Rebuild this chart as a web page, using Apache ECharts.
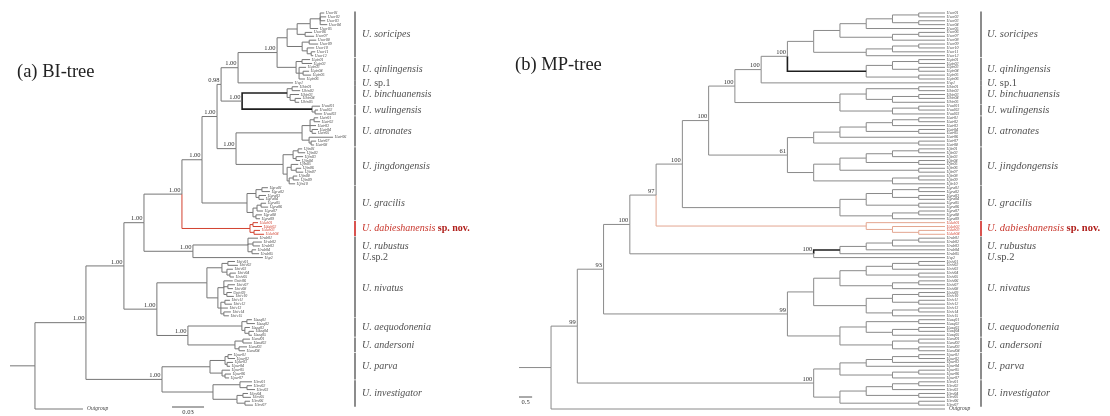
<!DOCTYPE html>
<html><head><meta charset="utf-8">
<script src="https://cdn.jsdelivr.net/npm/echarts@6/dist/echarts.min.js"></script>
<style>html,body{margin:0;padding:0;background:#fff}#c{width:1110px;height:416px}</style>
</head><body><div id="c"></div>
<script>
// ================= DATA =================
const titles = ['(a) BI-tree', '(b) MP-tree'];
const cladeCodes = ['sor','qin','sp1','bin','wul','atr','jin','gra','dab','rub','sp2','niv','aeq','and','par','inv'];
const cladeNames = ['soricipes','qinlingensis','sp.1','binchuanensis','wulingensis','atronates','jingdongensis','gracilis','dabieshanensis','rubustus','sp.2','nivatus','aequodonenia','andersoni','parva','investigator'];
const scaleBarValues = [0.03, 0.5];
const scaleBarLabels = ['0.03', '0.5'];

// BI tree (phylogram, branch lengths in substitutions/site, node labels = posterior probabilities)
const biBackbone = '(((((((((({sor}:0.0094,{qin}:0.0178)1.00:0.0366,Usp1:0.0516)1.00:0.0159,({bin}:0.0422,{wul}:0.0656)1.00:0.0197)0.98:0.0038,({atr}:0.0619,{jin}:0.0441)1.00:0.0178)1.00:0.0141,{gra}:0.0422)1.00:0.0188,{dab}:0.0638)1.00:0.0356,({rub}:0.0516,Usp2:0.0656)1.00:0.0459)1.00:0.0188,({niv}:0.0469,({aeq}:0.0506,{and}:0.0441)1.00:0.0291)1.00:0.0309)1.00:0.0356,({par}:0.045,{inv}:0.0478)1.00:0.0713)1.00:0.0478,Outgroup:0.045):0.0234';
const biSor = '((((Usor01:0.0038,Usor02:0.0056,Usor03:0.0047,Usor04:0.0066):0.0094,Usor05:0.0075):0.0122,(Usor06:0.0066,Usor07:0.0084):0.0075):0.0094,((Usor08:0.0066,Usor09:0.0084):0.0066,(Usor10:0.0066,(Usor11:0.0038,Usor12:0.0019):0.0038):0.0047):0.0141)';
const biQin = '((Uqin01:0.0075,Uqin02:0.0094):0.0056,(Uqin03:0.0066,(Uqin04:0.0056,Uqin05:0.0075):0.0038,Uqin06:0.0056):0.0028)';
const biBin = '((Ubin01:0.0056,Ubin02:0.0075):0.0047,(Ubin03:0.0084,(Ubin04:0.0056,Ubin05:0.0038):0.0047):0.0028)';
const biWul = '(Uwul01:0.0075,(Uwul02:0.0028,Uwul03:0.0066):0.0028)';
const biAtr = '(((Uatr01:0.0038,Uatr02:0.0056):0.0038,Uatr03:0.0056,(Uatr04:0.0056,Uatr05:0.0038):0.0019):0.0075,(Uatr06:0.0225,(Uatr07:0.0047,Uatr08:0.0028):0.0019):0.0066)';
const biJin = '(((Ujin01:0.0038,Ujin02:0.0066):0.0047,(Ujin03:0.0066,Ujin04:0.0038):0.0028):0.0094,((Ujin05:0.0066,(Ujin06:0.0047,Ujin07:0.0066):0.0047):0.0038,((Ujin08:0.0038,Ujin09:0.0056):0.0038,Ujin10:0.0056):0.0019):0.0038)';
const biGra = '(((Ugra01:0.0056,Ugra02:0.0075):0.0056,(Ugra03:0.0066,Ugra04:0.0047):0.0028):0.0084,(((Ugra05:0.0047,Ugra06:0.0066):0.0038,Ugra07:0.0056):0.0038,(Ugra08:0.0056,Ugra09:0.0038):0.0028):0.0056)';
const biDab = '((Udab01:0.0047,Udab02:0.0084):0.0028,(Udab03:0.0056,Udab04:0.0094):0.0038)';
const biRub = '(Urub01:0.0094,(Urub02:0.0084,Urub03:0.0066):0.0047,(Urub04:0.0038,Urub05:0.0066):0.0038)';
const biNiv = '(((Univ01:0.0066,Univ02:0.0094):0.0056,(Univ03:0.0056,(Univ04:0.0056,Univ05:0.0038):0.0028):0.0047):0.0141,((Univ06:0.0084,(Univ07:0.0066,Univ08:0.0047):0.0038,(Univ09:0.0047,Univ10:0.0066):0.0028):0.0056,((Univ11:0.0047,Univ12:0.0066):0.0038,Univ13:0.0066,(Univ14:0.0066,Univ15:0.0047):0.0028):0.0028):0.0103)';
const biAeq = '((Uaeq01:0.0047,Uaeq02:0.0075):0.0047,(Uaeq03:0.0047,(Uaeq04:0.0047,Uaeq05:0.0028):0.0038):0.0028)';
const biAnd = '((Uand01:0.0066,Uand02:0.0084):0.0075,(Uand03:0.0075,Uand04:0.0056):0.0038)';
const biPar = '(((Upar01:0.0038,Upar02:0.0066):0.0028,(Upar03:0.0056,Upar04:0.0028):0.0019):0.0141,(Upar05:0.0075,(Upar06:0.0056,Upar07:0.0038):0.0028):0.0113)';
const biInv = '((Uinv01:0.0113,(Uinv02:0.0047,Uinv03:0.0075):0.0066):0.0253,((Uinv04:0.0047,Uinv05:0.0075):0.0056,(Uinv06:0.0047,Uinv07:0.0075):0.0075):0.0225)';

// MP tree (cladogram, node labels = bootstrap values)
const mpBackbone = '(((((((((({sor},{qin})100,Usp1)100,({bin},{wul}))100,({atr},{jin})61)100,{gra})100,{dab})97,({rub},Usp2)100)100,({niv},({aeq},{and}))99)93,({par},{inv})100)99,Outgroup)';
const mpSor = '(((((Usor01,Usor02),(Usor03,Usor04)),Usor05),((Usor06,Usor07),Usor08)),(((Usor09,Usor10),Usor11),Usor12))';
const mpQin = '(((Uqin01,Uqin02),(Uqin03,Uqin04)),(Uqin05,Uqin06))';
const mpBin = '((Ubin01,Ubin02),((Ubin03,Ubin04),Ubin05))';
const mpWul = '((Uwul01,Uwul02),Uwul03)';
const mpAtr = '(((((Uatr01,Uatr02),Uatr03),(Uatr04,Uatr05)),Uatr06),(Uatr07,Uatr08))';
const mpJin = '(((((Ujin01,Ujin02),Ujin03),(Ujin04,Ujin05)),(Ujin06,Ujin07)),((Ujin08,Ujin09),Ujin10))';
const mpGra = '((((Ugra01,Ugra02),(Ugra03,Ugra04)),(Ugra05,Ugra06)),((Ugra07,Ugra08),Ugra09))';
const mpDab = '(Udab01,(Udab02,(Udab03,Udab04)))';
const mpRub = '((((Urub01,Urub02),Urub03),Urub04),Urub05)';
const mpNiv = '(((((Univ01,Univ02),Univ03),(Univ04,Univ05)),((Univ06,Univ07),Univ08)),(((Univ09,Univ10),(Univ11,Univ12)),((Univ13,Univ14),Univ15)))';
const mpAeq = '((Uaeq01,Uaeq02),((Uaeq03,Uaeq04),Uaeq05))';
const mpAnd = '((Uand01,Uand02),(Uand03,Uand04))';
const mpPar = '((((Upar01,Upar02),Upar03),Upar04),((Upar05,Upar06),Upar07))';
const mpInv = '((((Uinv01,Uinv02),Uinv03),(Uinv04,Uinv05)),(Uinv06,Uinv07))';

// ================= BUILD =================
const SERIF = '"Liberation Serif","DejaVu Serif",serif';
function fillBackbone(bb, parts){ return bb.replace(/\{(\w+)\}/g, (m,k) => parts[k]); }
function parseNewick(str){
  let i = 0;
  function node(){
    const n = {children:[], name:'', len:0};
    if (str[i] === '('){
      i++; n.children.push(node());
      while (str[i] === ','){ i++; n.children.push(node()); }
      i++;
    }
    let s = '';
    while (i < str.length && ':,();'.indexOf(str[i]) < 0) s += str[i++];
    n.name = s;
    if (str[i] === ':'){ i++; let v=''; while (i < str.length && ',();'.indexOf(str[i]) < 0) v += str[i++]; n.len = parseFloat(v); }
    return n;
  }
  return node();
}
function codeOf(name){ return name.slice(1,4); }
function layoutTree(root, mode, stub){
  const nodes = []; let leafIdx = 0;
  function height(n){ n.h = n.children.length ? 1 + Math.max(...n.children.map(height)) : 0; return n.h; }
  height(root);
  function walk(n, parent, px){
    n.parent = parent; n.px = px;
    n.x = mode === 'phylo' ? px + n.len : n.h;
    if (!n.children.length){ n.y = leafIdx++; n.leaves = [n.name]; }
    else {
      n.children.forEach(c => walk(c, n, n.x));
      n.y = (n.children[0].y + n.children[n.children.length-1].y) / 2;
      n.leaves = [].concat(...n.children.map(c => c.leaves));
    }
    const codes = new Set(n.leaves.map(codeOf));
    n.code = codes.size === 1 ? [...codes][0] : null;
    nodes.push(n);
  }
  walk(root, null, mode === 'phylo' ? 0 : root.h + stub);
  return nodes;
}
const biParts = {sor:biSor,qin:biQin,bin:biBin,wul:biWul,atr:biAtr,jin:biJin,gra:biGra,dab:biDab,rub:biRub,niv:biNiv,aeq:biAeq,and:biAnd,par:biPar,inv:biInv};
const mpParts = {sor:mpSor,qin:mpQin,bin:mpBin,wul:mpWul,atr:mpAtr,jin:mpJin,gra:mpGra,dab:mpDab,rub:mpRub,niv:mpNiv,aeq:mpAeq,and:mpAnd,par:mpPar,inv:mpInv};
const MP_STUB = 1.22;
const trees = [
  layoutTree(parseNewick(fillBackbone(biBackbone, biParts)), 'phylo', 0),
  layoutTree(parseNewick(fillBackbone(mpBackbone, mpParts)), 'clado', MP_STUB)
];
const leafCount = trees[0].filter(n => !n.children.length).length;

const boldStems = [['bin','wul'], ['qin','rub']];
function styleOf(n, t){
  if (n.code === 'dab') return {color: t === 0 ? '#d2412f' : '#e3a690', width: 1};
  if (n.code && boldStems[t].includes(n.code) && (!n.parent || n.parent.code !== n.code)) return {color:'#1e1e1e', width:1.6};
  return {color: t === 0 ? '#767676' : '#8a8a8a', width: 1};
}

function treeSeries(t){
  const nodes = trees[t];
  return {
    type:'custom', coordinateSystem:'cartesian2d', xAxisIndex:t, yAxisIndex:t,
    silent:true, animation:false, clip:false,
    data: nodes.map(n => [n.x, n.y]),
    renderItem(params, api){
      const n = nodes[params.dataIndex];
      const st = styleOf(n, t);
      const pY = n.parent ? n.parent.y : n.y;
      const a = api.coord([n.px, pY]), b = api.coord([n.px, n.y]), c = api.coord([n.x, n.y]);
      const els = [{type:'polyline', shape:{points:[a,b,c]}, style:{stroke:st.color, lineWidth:st.width, fill:'none'}}];
      if (n.children.length && n.name){
        els.push({type:'text', style:{text:n.name, x:c[0]-1.5, y:c[1]-0.6, align:'right', verticalAlign:'bottom',
          font:'6.5px ' + SERIF, fill:'#333'}});
      }
      if (!n.children.length){
        const isOut = n.name === 'Outgroup';
        els.push({type:'text', style:{text:n.name, x:c[0]+ (isOut ? 4 : 1.5), y:c[1], align:'left', verticalAlign:'middle',
          font:'italic ' + (isOut ? 5.5 : 4) + 'px ' + SERIF, fill: n.code === 'dab' ? '#d2412f' : '#444'}});
      }
      return {type:'group', children:els};
    }
  };
}

const bracketX = [355, 981], labelX = [362, 987], labelSize = [10, 10.5];
function cladeRich(code, name, size){
  if (code === 'sp1') return '{i|U.}{n| sp.1}';
  if (code === 'sp2') return '{i|U.}{n|sp.2}';
  if (code === 'dab') return '{r|U. ' + name + '}{b| sp. nov.}';
  return '{i|U. ' + name + '}';
}
function cladeSeries(t){
  const leaves = trees[t].filter(n => !n.children.length);
  const sz = labelSize[t];
  return {
    type:'custom', coordinateSystem:'cartesian2d', xAxisIndex:t, yAxisIndex:t,
    silent:true, animation:false, clip:false,
    data: cladeCodes.map((c,i) => [0, i]),
    renderItem(params, api){
      const code = cladeCodes[params.dataIndex];
      const ls = leaves.filter(l => codeOf(l.name) === code);
      const y1 = api.coord([0, ls[0].y])[1], y2 = api.coord([0, ls[ls.length-1].y])[1];
      const ext = ls.length === 1 ? 2.6 : 1.6;
      const red = code === 'dab';
      return {type:'group', children:[
        {type:'rect', shape:{x:bracketX[t]-1, y:y1-ext, width:2, height:(y2-y1)+2*ext},
          style:{fill: red ? '#d9534f' : '#8c8c8c'}},
        {type:'text', style:{text: cladeRich(code, cladeNames[params.dataIndex]), x:labelX[t], y:(y1+y2)/2,
          align:'left', verticalAlign:'middle',
          rich:{
            i:{fontStyle:'italic', fontSize:sz, fontFamily:SERIF, fill:'#505050'},
            n:{fontSize:sz, fontFamily:SERIF, fill:'#505050'},
            r:{fontStyle:'italic', fontSize:sz, fontFamily:SERIF, fill:'#c8352b'},
            b:{fontWeight:'bold', fontSize:sz, fontFamily:SERIF, fill:'#b0201c'}
          }}}
      ]};
    }
  };
}

function scaleSeries(t){
  return {
    type:'custom', coordinateSystem:'cartesian2d', xAxisIndex:t, yAxisIndex:t,
    silent:true, animation:false, clip:false,
    data:[[0,0]],
    renderItem(params, api){
      let x0v, x1v, yPx;
      if (t === 0){ x0v = 0.1519; x1v = x0v + scaleBarValues[0]; yPx = 407; }
      else { x0v = trees[1][trees[1].length-1].h + MP_STUB; x1v = x0v - scaleBarValues[1]; yPx = 397; }
      const a = api.coord([x0v, 0])[0], b = api.coord([x1v, 0])[0];
      return {type:'group', children:[
        {type:'line', shape:{x1:a, y1:yPx, x2:b, y2:yPx}, style:{stroke:'#555', lineWidth:1}},
        {type:'text', style:{text:scaleBarLabels[t], x:(a+b)/2, y:yPx+2, align:'center', verticalAlign:'top',
          font:'6.5px ' + SERIF, fill:'#333'}}
      ]};
    }
  };
}

const mpMax = trees[1][trees[1].length-1].h + MP_STUB;
const chart = echarts.init(document.getElementById('c'), null, {renderer:'canvas'});
chart.setOption({
  backgroundColor:'#ffffff',
  animation:false,
  grid:[
    {left:10, top:13, width:320, height:396},
    {left:519, top:13, width:426, height:396}
  ],
  xAxis:[
    {type:'value', gridIndex:0, min:0, max:0.3, show:false},
    {type:'value', gridIndex:1, min:0, max:mpMax, inverse:true, show:false}
  ],
  yAxis:[
    {type:'value', gridIndex:0, min:0, max:leafCount-1, inverse:true, show:false},
    {type:'value', gridIndex:1, min:0, max:leafCount-1, inverse:true, show:false}
  ],
  graphic:[
    {type:'text', x:17, y:72, style:{text:titles[0], font:'18.5px ' + SERIF, fill:'#222', verticalAlign:'middle'}},
    {type:'text', x:515, y:65, style:{text:titles[1], font:'18.5px ' + SERIF, fill:'#222', verticalAlign:'middle'}}
  ],
  series:[treeSeries(0), treeSeries(1), cladeSeries(0), cladeSeries(1), scaleSeries(0), scaleSeries(1)]
});
</script></body></html>
